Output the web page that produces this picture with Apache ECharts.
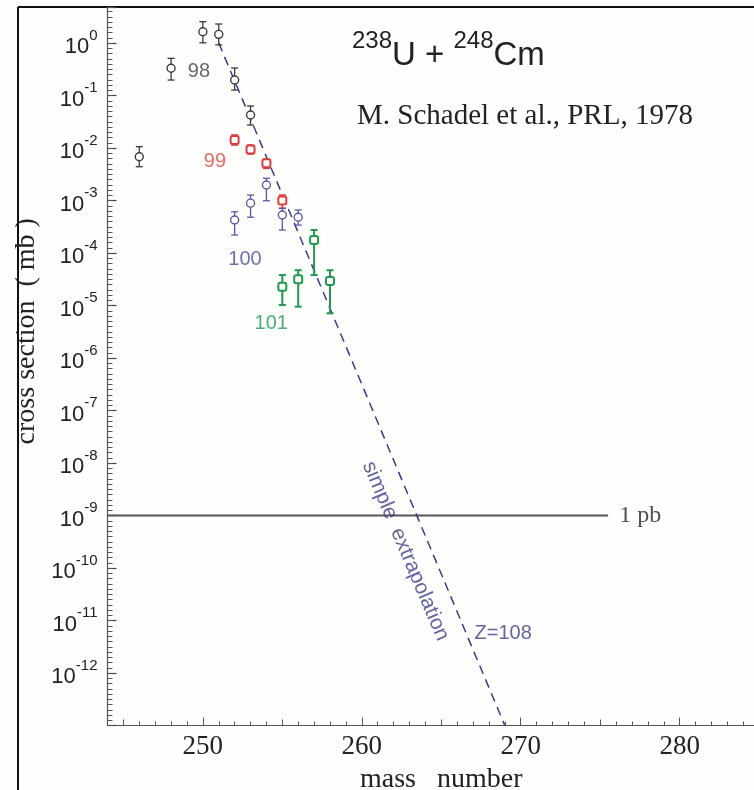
<!DOCTYPE html>
<html>
<head>
<meta charset="utf-8">
<script src="https://cdn.jsdelivr.net/npm/echarts@6/dist/echarts.min.js"></script>
<style>
  html, body { margin: 0; padding: 0; background: #fefefc; }
  #chart { width: 754px; height: 790px; }
</style>
</head>
<body>
<div id="chart"></div>
<script>
// cross sections in mb
// Z=98 (Cf)
const massCf = [246, 248, 250, 251, 252, 253]
const sigmaCf = [6.8e-3, 0.33, 1.64, 1.46, 0.197, 0.0425]
const lowCf = [4.4e-3, 0.197, 1.01, 0.92, 0.127, 0.0274]
const highCf = [1.06e-2, 0.51, 2.55, 2.3, 0.334, 0.063]
// Z=99 (Es)
const massEs = [252, 253, 254, 255]
const sigmaEs = [1.42e-2, 9.4e-3, 5.1e-3, 1.0e-3]
const lowEs = [1.14e-2, 7.7e-3, 4.1e-3, 7.1e-4]
const highEs = [1.77e-2, 1.14e-2, 6.1e-3, 1.27e-3]
// Z=100 (Fm)
const massFm = [252, 253, 254, 255, 256]
const sigmaFm = [4.25e-4, 8.9e-4, 1.97e-3, 5.3e-4, 4.8e-4]
const lowFm = [2.2e-4, 4.8e-4, 9.9e-4, 2.74e-4, 3.4e-4]
const highFm = [6.1e-4, 1.27e-3, 2.65e-3, 7.1e-4, 6.6e-4]
// Z=101 (Md)
const massMd = [255, 256, 257, 258]
const sigmaMd = [2.28e-5, 3.16e-5, 1.77e-4, 2.93e-5]
const lowMd = [1.02e-5, 9.5e-6, 3.8e-5, 7.1e-6]
const highMd = [3.8e-5, 4.7e-5, 2.74e-4, 4.7e-5]

// simple extrapolation towards Z=108
const extraMass = [251, 269]
const extraSigma = [1, 1e-13]
// 1 pb level
const pbMass = [244, 275.5]
const pbSigma = [1e-9, 1e-9]

// text notes inside the plot
const noteText = ['98', '99', '100', '101', 'simple  extrapolation', 'Z=108', '1 pb']
const noteMass = [249.75, 250.76, 252.65, 254.3, 262.75, 268.9, 276.2]
const noteSigma = [0.293, 5.5e-3, 7.4e-5, 4.6e-6, 2.1e-10, 5.75e-12, 1e-9]

const noteStyle = {
  '98': { color: '#444444' },
  '99': { color: '#e2473e' },
  '100': { color: '#4b4b98' },
  '101': { color: '#1f9a50' },
  'simple  extrapolation': { color: '#3c3c8c', rotate: -67, fontSize: 21 },
  'Z=108': { color: '#3c3c8c' },
  '1 pb': { color: '#222', fontFamily: 'Liberation Serif', fontSize: 24, align: 'left' },
}

const yMin = 1e-13
const yMax = 4.85
const axisGray = '#555'

function errorBars(mass, low, high, color, width) {
  return {
    type: 'custom',
    silent: true,
    z: 3,
    data: mass.map((m, i) => [m, low[i], high[i]]),
    encode: { x: 0, y: [1, 2] },
    renderItem: (params, api) => {
      const lo = api.coord([api.value(0), api.value(1)])
      const hi = api.coord([api.value(0), api.value(2)])
      const cap = 3.5
      const style = { stroke: color, lineWidth: width }
      return {
        type: 'group',
        children: [
          { type: 'line', shape: { x1: lo[0], y1: lo[1], x2: hi[0], y2: hi[1] }, style },
          { type: 'line', shape: { x1: lo[0] - cap, y1: lo[1], x2: lo[0] + cap, y2: lo[1] }, style },
          { type: 'line', shape: { x1: hi[0] - cap, y1: hi[1], x2: hi[0] + cap, y2: hi[1] }, style },
        ],
      }
    },
  }
}

function points(mass, sigma, color, symbol, width) {
  return {
    type: 'scatter',
    silent: true,
    z: 4,
    symbol: symbol,
    symbolSize: 8,
    itemStyle: { color: '#fff', borderColor: color, borderWidth: width, opacity: 1 },
    data: mass.map((m, i) => [m, sigma[i]]),
  }
}

const pairs = (xs, ys) => xs.map((x, i) => [x, ys[i]])

const option = {
  backgroundColor: '#fefefc',
  animation: false,
  title: [
    {
      text: '{s|238}{b|U + }{s|248}{b|Cm}',
      left: 352,
      top: 29,
      padding: 0,
      textStyle: {
        rich: {
          s: { fontSize: 24, fontWeight: 'normal', fontFamily: 'Liberation Sans', color: '#222', verticalAlign: 'top', lineHeight: 43 },
          b: { fontSize: 33, fontWeight: 'normal', fontFamily: 'Liberation Sans', color: '#222', verticalAlign: 'bottom', lineHeight: 43 },
        },
      },
    },
    {
      text: 'M. Schadel et al., PRL, 1978',
      left: 357,
      top: 102,
      padding: 0,
      textStyle: { fontFamily: 'Liberation Serif', fontSize: 29, fontWeight: 'normal', color: '#222' },
    },
  ],
  grid: {
    left: 107.5,
    right: -21,
    top: 7,
    bottom: 64.5,
    outerBoundsMode: 'none',
    containLabel: false,
  },
  xAxis: [
    {
      type: 'value',
      min: 244,
      max: 286,
      splitNumber: 4,
      splitLine: { show: false },
      axisLine: { onZero: false, lineStyle: { color: axisGray, width: 1.2 } },
      axisTick: { inside: true, length: 8, lineStyle: { color: axisGray } },
      minorTick: { show: true, splitNumber: 10, length: 4, lineStyle: { color: axisGray } },
      axisLabel: {
        showMinLabel: false,
        showMaxLabel: false,
        fontFamily: 'Liberation Serif',
        fontSize: 27,
        color: '#222',
        margin: 8,
      },
      name: 'mass   number',
      nameLocation: 'middle',
      nameGap: 40,
      nameTextStyle: { fontFamily: 'Liberation Serif', fontSize: 28, color: '#222' },
    },
    {
      type: 'value',
      position: 'bottom',
      min: 244,
      max: 286,
      splitNumber: 8,
      splitLine: { show: false },
      axisLine: { show: false, onZero: false },
      axisTick: { inside: true, length: 6, lineStyle: { color: axisGray } },
      axisLabel: { show: false },
    },
  ],
  yAxis: [
    {
      type: 'log',
      logBase: 10,
      min: yMin,
      max: yMax,
      interval: 1,
      splitLine: { show: false },
      axisLine: { show: true, onZero: false, lineStyle: { color: axisGray, width: 1.2 } },
      axisTick: { show: true, inside: true, length: 9, lineStyle: { color: '#444', width: 1.2 } },
      axisLabel: {
        margin: 10,
        formatter: (v) => {
          const e = Math.log10(v)
          const n = Math.round(e)
          if (Math.abs(e - n) > 1e-6 || n < -12 || n > 0) return ''
          return '{b|10}{s|' + n + '}'
        },
        rich: {
          b: { fontSize: 22, fontFamily: 'Liberation Sans', color: '#222', lineHeight: 30, verticalAlign: 'bottom' },
          s: { fontSize: 15, fontFamily: 'Liberation Sans', color: '#222', lineHeight: 30, verticalAlign: 'top' },
        },
      },
      name: 'cross section  ( mb )',
      nameLocation: 'middle',
      nameGap: 60,
      nameTextStyle: { fontFamily: 'Liberation Serif', fontSize: 28, color: '#222', padding: [0, 0, 0, 70] },
    },
    {
      // minor ticks of the log axis: the same span in decades, a tick every tenth
      type: 'value',
      position: 'left',
      offset: 0,
      min: Math.log10(yMin),
      max: Math.log10(yMax),
      interval: 0.1,
      splitLine: { show: false },
      axisLine: { show: false, onZero: false },
      axisTick: { show: true, inside: true, interval: 0, length: 5, lineStyle: { color: '#555', width: 1 } },
      axisLabel: { show: false },
    },
  ],
  graphic: [
    { type: 'line', shape: { x1: 18, y1: 7, x2: 754, y2: 7 }, style: { stroke: '#111', lineWidth: 2 } },
    { type: 'line', shape: { x1: 18, y1: 7, x2: 18, y2: 790 }, style: { stroke: '#111', lineWidth: 2 } },
  ],
  series: [
    {
      type: 'line',
      silent: true,
      symbol: 'none',
      z: 2,
      data: pairs(pbMass, pbSigma),
      lineStyle: { color: '#555', width: 1.8 },
    },
    {
      type: 'line',
      silent: true,
      symbol: 'none',
      z: 2,
      data: pairs(extraMass, extraSigma),
      lineStyle: { color: '#3a3a8a', width: 1.5, type: [9, 6] },
    },
    errorBars(massCf, lowCf, highCf, '#3a3a3a', 1.3),
    errorBars(massEs, lowEs, highEs, '#e03c3c', 1.6),
    errorBars(massFm, lowFm, highFm, '#5858a8', 1.3),
    errorBars(massMd, lowMd, highMd, '#1e9a50', 2),
    points(massCf, sigmaCf, '#3a3a3a', 'circle', 1.4),
    points(massEs, sigmaEs, '#e03c3c', 'roundRect', 2),
    points(massFm, sigmaFm, '#5858a8', 'circle', 1.4),
    points(massMd, sigmaMd, '#1e9a50', 'roundRect', 2),
    {
      type: 'scatter',
      silent: true,
      symbolSize: 0,
      z: 5,
      data: noteText.map((t, i) => ({
        name: t,
        value: [noteMass[i], noteSigma[i]],
        label: Object.assign({ fontSize: 20, fontFamily: 'Liberation Sans', align: 'center' }, noteStyle[t]),
      })),
      label: { show: true, position: 'inside', formatter: '{b}', verticalAlign: 'middle' },
    },
  ],
}

const chart = echarts.init(document.getElementById('chart'))
chart.setOption(option)
</script>
</body>
</html>
